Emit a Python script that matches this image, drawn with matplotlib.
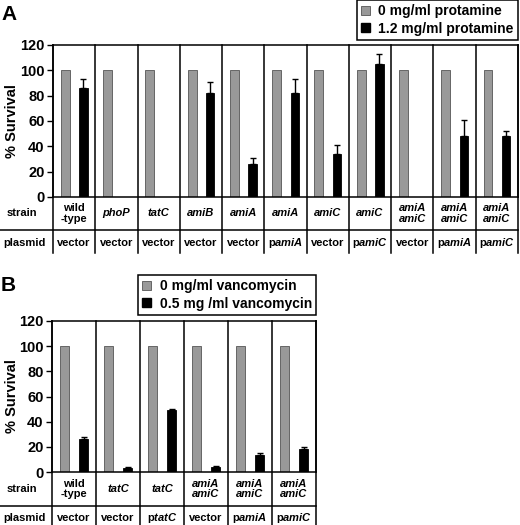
import numpy as np
import matplotlib
matplotlib.use('Agg')
import matplotlib.pyplot as plt
import matplotlib.transforms as mtransforms
from matplotlib.patches import Patch

plt.rcParams['font.family'] = 'Liberation Sans'
plt.rcParams['font.weight'] = 'bold'
plt.rcParams['mathtext.fontset'] = 'custom'
plt.rcParams['mathtext.it'] = 'Liberation Sans:italic:bold'
plt.rcParams['mathtext.rm'] = 'Liberation Sans:bold'

# ---- data, panel A (protamine) ----
a_strains = ['wild\n-type', 'phoP', 'tatC', 'amiB', 'amiA', 'amiA', 'amiC', 'amiC',
             'amiA\namiC', 'amiA\namiC', 'amiA\namiC']
a_plasmids = ['vector', 'vector', 'vector', 'vector', 'vector', 'pamiA', 'vector',
              'pamiC', 'vector', 'pamiA', 'pamiC']
a_ctrl = [100, 100, 100, 100, 100, 100, 100, 100, 100, 100, 100]
a_treat = [86, 0, 0, 82, 26, 82, 34, 105, 0, 48, 48]
a_err = [7.5, 0, 0, 9, 4.5, 11.5, 7, 8, 0, 13, 4]
a_legend = ['0 mg/ml protamine', '1.2 mg/ml protamine']

# ---- data, panel B (vancomycin) ----
b_strains = ['wild\n-type', 'tatC', 'tatC', 'amiA\namiC', 'amiA\namiC', 'amiA\namiC']
b_plasmids = ['vector', 'vector', 'ptatC', 'vector', 'pamiA', 'pamiC']
b_ctrl = [100, 100, 100, 100, 100, 100]
b_treat = [26.5, 3.2, 49.5, 4.2, 13.3, 18.5]
b_err = [1.6, 0.8, 0.8, 0.6, 1.8, 1.2]
b_legend = ['0 mg/ml vancomycin', '0.5 mg /ml vancomycin']

W, H = 520, 525
GREY = '#999999'


def fx(px):
    return px / W


def fy(py):
    return 1 - py / H


def plasmid_text(s):
    # "p" upright, gene name in italics
    if s == 'vector':
        return s
    return 'p$' + s[1:] + '$'


def draw_panel(ax, strains, plasmids, ctrl, treat, err, box_px, row1_px, row2_px):
    left, top, right, bottom = box_px
    hpx = bottom - top
    wpx = right - left
    n = len(strains)
    x = np.arange(n)
    ctrl = np.array(ctrl, float)
    treat = np.array(treat, float)
    err = np.array(err, float)

    ax.bar(x + 0.29, ctrl, width=0.21, color=GREY, edgecolor='#555555', linewidth=0.6)
    has = treat > 0
    ax.bar(x[has] + 0.72, treat[has], width=0.2, color='black', edgecolor='black', linewidth=0.6)
    ax.errorbar(x[has] + 0.72, treat[has], yerr=[np.zeros(has.sum()), err[has]],
                fmt='none', ecolor='black', elinewidth=1, capsize=2.5, capthick=1)

    ax.set_xlim(0, n)
    ax.set_ylim(0, 120)
    ax.set_yticks(range(0, 121, 20))
    ax.set_xticks([])
    ax.tick_params(axis='y', direction='out', length=4, width=1, labelsize=10.5, pad=2)
    for s in ax.spines.values():
        s.set_linewidth(1.1)
    ax.set_ylabel('% Survival', fontsize=10.5, fontweight='bold')
    ax.yaxis.set_label_coords((19 - left) / wpx, 0.5)

    r1 = -(row1_px - bottom) / hpx
    r2 = -(row2_px - bottom) / hpx
    trans = mtransforms.blended_transform_factory(ax.transData, ax.transAxes)
    for i in range(n + 1):
        ax.plot([i, i], [r2, 1], color='black', lw=1.1, transform=trans, clip_on=False)
    ax.plot([-left / wpx, 1], [r1, r1], color='black', lw=1.1,
            transform=ax.transAxes, clip_on=False)

    for i in range(n):
        style = 'normal' if strains[i].startswith('wild') else 'italic'
        ax.text(i + 0.5, r1 / 2, strains[i], transform=trans, ha='center', va='center',
                fontsize=8, fontweight='bold', fontstyle=style, linespacing=1.1)
        ax.text(i + 0.5, (r1 + r2) / 2 - 0.01, plasmid_text(plasmids[i]), transform=trans,
                ha='center', va='center', fontsize=8, fontweight='bold')
    ax.text((22 - left) / wpx, r1 / 2, 'strain', transform=ax.transAxes,
            ha='center', va='center', fontsize=8, fontweight='bold')
    ax.text((24 - left) / wpx, (r1 + r2) / 2 - 0.01, 'plasmid', transform=ax.transAxes,
            ha='center', va='center', fontsize=8, fontweight='bold')


fig = plt.figure(figsize=(W / 100, H / 100), dpi=100)

boxA = (53, 45, 518, 197)
axA = fig.add_axes([fx(boxA[0]), fy(boxA[3]), (boxA[2] - boxA[0]) / W, (boxA[3] - boxA[1]) / H])
draw_panel(axA, a_strains, a_plasmids, a_ctrl, a_treat, a_err, boxA, 230, 253)

boxB = (52, 321, 316, 472)
axB = fig.add_axes([fx(boxB[0]), fy(boxB[3]), (boxB[2] - boxB[0]) / W, (boxB[3] - boxB[1]) / H])
draw_panel(axB, b_strains, b_plasmids, b_ctrl, b_treat, b_err, boxB, 506, 526)

fig.text(fx(1), fy(20), 'A', fontsize=15, fontweight='bold', va='baseline')
fig.text(fx(1), fy(291), 'B', fontsize=15, fontweight='bold', va='baseline')


def add_legend(labels, anchor, loc):
    handles = [Patch(facecolor=GREY, edgecolor='#555555', linewidth=0.6),
               Patch(facecolor='black', edgecolor='black')]
    leg = fig.legend(handles, labels, loc=loc, bbox_to_anchor=anchor, frameon=True,
                     fancybox=False, framealpha=1, edgecolor='black', borderaxespad=0,
                     prop={'size': 10, 'weight': 'bold'}, handlelength=0.65,
                     handleheight=0.65, handletextpad=0.6, labelspacing=0.25,
                     borderpad=0.3)
    leg.get_frame().set_linewidth(1.1)
    return leg


add_legend(a_legend, (fx(518), fy(0)), 'upper right')
add_legend(b_legend, (fx(138), fy(275)), 'upper left')

fig.savefig('out.png', dpi=100)
